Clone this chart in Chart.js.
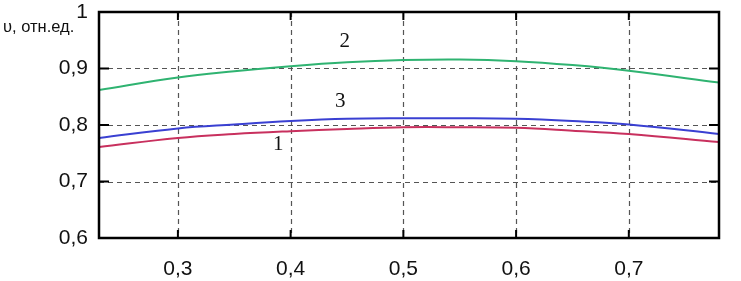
<!DOCTYPE html>
<html>
<head>
<meta charset="utf-8">
<script src="https://cdn.jsdelivr.net/npm/chart.js@4"></script>
<style>
  html, body { margin: 0; padding: 0; background: #fff; }
  #wrap { position: relative; width: 741px; height: 281px; }
  #ytitle {
    position: absolute; left: 3px; top: 17px;
    font: 16.5px "Liberation Sans", Arial, sans-serif; color: #111;
  }
</style>
</head>
<body>
<div id="wrap">
  <canvas id="chart" width="741" height="281"></canvas>
  <div id="ytitle">υ, отн.ед.</div>
</div>
<script>
const xValues = [0.23, 0.3, 0.35, 0.4, 0.45, 0.5, 0.55, 0.6, 0.65, 0.7, 0.78];
const curve1 = [0.761, 0.777, 0.784, 0.789, 0.793, 0.796, 0.796, 0.795, 0.790, 0.784, 0.770];
const curve2 = [0.862, 0.884, 0.895, 0.904, 0.911, 0.915, 0.916, 0.913, 0.906, 0.896, 0.875];
const curve3 = [0.777, 0.794, 0.801, 0.807, 0.811, 0.812, 0.812, 0.811, 0.807, 0.801, 0.784];
const xTicks = [0.3, 0.4, 0.5, 0.6, 0.7];
const yTicks = [0.6, 0.7, 0.8, 0.9, 1];
const curveLabels = ["1", "2", "3"];
const labelPos = [[0.389, 0.765], [0.448, 0.947], [0.444, 0.841]];

const toPoints = (ys) => ys.map((y, i) => ({ x: xValues[i], y: y }));
const fmt = (v) => (Math.round(v * 10) / 10 === 1 ? "1" : v.toFixed(1).replace(".", ","));

// пунктирная сетка под линиями
const gridPlugin = {
  id: "dashgrid",
  beforeDatasetsDraw(chart) {
    const { ctx, chartArea: a, scales } = chart;
    ctx.save();
    ctx.strokeStyle = "#555";
    ctx.lineWidth = 1.2;
    ctx.setLineDash([5, 4]);
    ctx.beginPath();
    xTicks.forEach((t) => {
      const px = Math.round(scales.x.getPixelForValue(t)) + 0.5;
      ctx.moveTo(px, a.top); ctx.lineTo(px, a.bottom);
    });
    yTicks.forEach((t) => {
      const py = Math.round(scales.y.getPixelForValue(t)) + 0.5;
      ctx.moveTo(a.left, py); ctx.lineTo(a.right, py);
    });
    ctx.stroke();
    ctx.restore();
  },
};

// рамка, внутренние засечки и номера кривых
const framePlugin = {
  id: "frame",
  afterDatasetsDraw(chart) {
    const { ctx, chartArea: a, scales } = chart;
    ctx.save();
    ctx.strokeStyle = "#000";
    ctx.lineWidth = 2.5;
    ctx.strokeRect(a.left, a.top, a.right - a.left, a.bottom - a.top);
    ctx.lineWidth = 2;
    ctx.beginPath();
    xTicks.forEach((t) => {
      const px = scales.x.getPixelForValue(t);
      ctx.moveTo(px, a.bottom); ctx.lineTo(px, a.bottom - 8);
      ctx.moveTo(px, a.top); ctx.lineTo(px, a.top + 8);
    });
    yTicks.forEach((t) => {
      const py = scales.y.getPixelForValue(t);
      ctx.moveTo(a.left, py); ctx.lineTo(a.left + 10, py);
      ctx.moveTo(a.right, py); ctx.lineTo(a.right - 10, py);
    });
    ctx.stroke();

    ctx.fillStyle = "#111";
    ctx.font = "21px 'Liberation Serif', 'Times New Roman', serif";
    ctx.textAlign = "center";
    ctx.textBaseline = "middle";
    curveLabels.forEach((txt, i) => {
      ctx.fillText(txt, scales.x.getPixelForValue(labelPos[i][0]), scales.y.getPixelForValue(labelPos[i][1]));
    });
    ctx.restore();
  },
};

const lineDs = (data, color) => ({
  data: toPoints(data),
  borderColor: color,
  borderWidth: 2,
  pointRadius: 0,
  fill: false,
  tension: 0.4,
});

const tickFont = { family: "'Liberation Sans', Arial, sans-serif", size: 21 };

new Chart(document.getElementById("chart"), {
  type: "line",
  data: {
    datasets: [
      lineDs(curve2, "#2fb371"),
      lineDs(curve3, "#3a40d2"),
      lineDs(curve1, "#c8305e"),
    ],
  },
  options: {
    responsive: false,
    animation: false,
    layout: { padding: { top: 12, right: 22, left: 0, bottom: 0 } },
    plugins: { legend: { display: false }, tooltip: { enabled: false } },
    scales: {
      x: {
        type: "linear",
        min: 0.23,
        max: 0.78,
        afterBuildTicks: (s) => { s.ticks = xTicks.map((v) => ({ value: v })); },
        afterFit: (s) => { s.height = 43; s.paddingLeft = 0; s.paddingRight = 0; },
        grid: { display: false, drawTicks: false },
        border: { display: false },
        ticks: { padding: 19, color: "#111", font: tickFont, callback: (v) => fmt(v) },
      },
      y: {
        type: "linear",
        min: 0.6,
        max: 1,
        afterBuildTicks: (s) => { s.ticks = yTicks.map((v) => ({ value: v })); },
        afterFit: (s) => { s.width = 99; s.paddingTop = 0; s.paddingBottom = 0; },
        grid: { display: false, drawTicks: false },
        border: { display: false },
        ticks: { padding: 11, color: "#111", font: tickFont, callback: (v) => fmt(v) },
      },
    },
  },
  plugins: [gridPlugin, framePlugin],
});
</script>
</body>
</html>
